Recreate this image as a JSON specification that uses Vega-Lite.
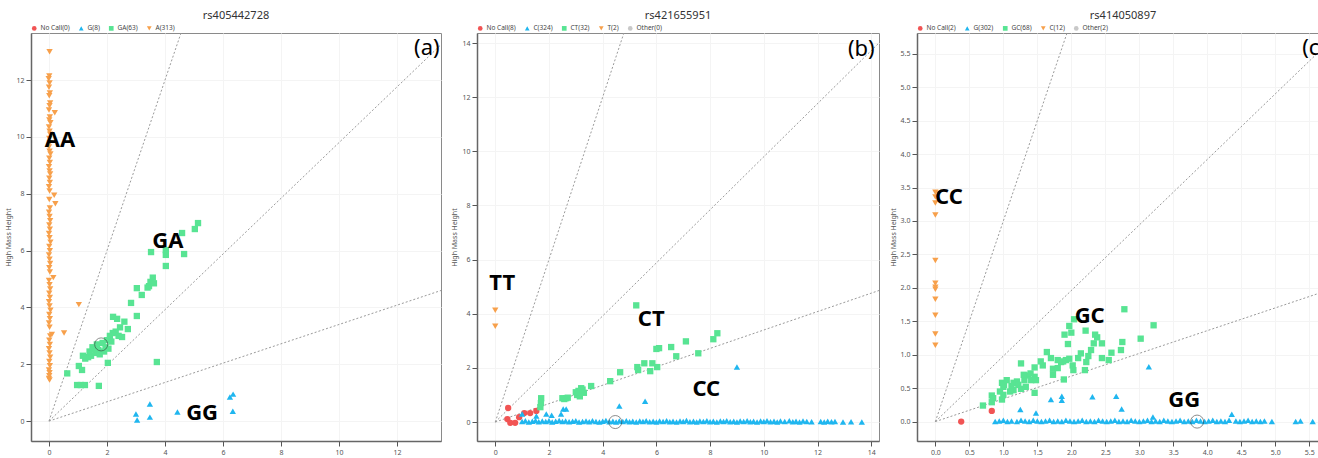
{
"$schema": "https://vega.github.io/schema/vega-lite/v6.json",
"padding": {"left": 4, "top": 9, "right": 0, "bottom": 0},
"spacing": 8,
"config": {
  "font": "Noto Sans",
  "view": {"stroke": "#8a8a8a", "strokeWidth": 1},
  "axis": {"labelFontSize": 7, "labelColor": "#555", "titleFontSize": 7, "titleColor": "#555", "titleFontWeight": "normal", "tickColor": "#555", "tickSize": 5, "domainColor": "#666", "domainWidth": 1.5, "gridColor": "#f4f4f4", "labelPadding": 2, "titlePadding": 4},
  "title": {"fontSize": 11, "fontWeight": "normal", "color": "#333", "anchor": "middle", "frame": "group", "offset": 0},
  "legend": {"orient": "none", "legendX": 0, "legendY": -8, "direction": "horizontal", "title": null, "labelFontSize": 6.5, "labelColor": "#444", "symbolSize": 22, "columnPadding": 8, "labelOffset": 3, "symbolStrokeWidth": 0}
},
"datasets": {
  "lines": [{"x":0,"y":0,"x2":20,"y2":60},{"x":0,"y":0,"x2":60,"y2":58.8},{"x":0,"y":0,"x2":60,"y2":20.4}],
  "sel": [{"p":"a","x":1.8,"y":2.7},{"p":"b","x":4.47,"y":0},{"p":"c","x":3.85,"y":0}],
  "lab": [
    {"p":"a","x":0.38,"y":9.9,"t":"AA"},{"p":"a","x":4.1,"y":6.34,"t":"GA"},{"p":"a","x":5.28,"y":0.28,"t":"GG"},
    {"p":"b","x":0.26,"y":5.12,"t":"TT"},{"p":"b","x":5.81,"y":3.8,"t":"CT"},{"p":"b","x":7.86,"y":1.22,"t":"CC"},
    {"p":"c","x":0.2,"y":3.36,"t":"CC"},{"p":"c","x":2.27,"y":1.58,"t":"GC"},{"p":"c","x":3.66,"y":0.32,"t":"GG"}
  ],
  "let": [{"p":"a","x":13.03,"y":13.12,"t":"(a)"},{"p":"b","x":13.63,"y":13.78,"t":"(b)"},{"p":"c","x":5.57,"y":5.59,"t":"(c)"}],
  "da": [
    {"x":0.02,"y":13.0,"g":"A(313)"},{"x":0.01,"y":12.15,"g":"A(313)"},{"x":-0.01,"y":12.05,"g":"A(313)"},{"x":0.02,"y":11.9,"g":"A(313)"},{"x":0.0,"y":11.75,"g":"A(313)"},{"x":0.03,"y":11.55,"g":"A(313)"},{"x":0.01,"y":11.45,"g":"A(313)"},{"x":0.04,"y":11.2,"g":"A(313)"},{"x":0.02,"y":11.1,"g":"A(313)"},{"x":0.0,"y":10.95,"g":"A(313)"},{"x":0.2,"y":10.85,"g":"A(313)"},{"x":0.03,"y":10.7,"g":"A(313)"},{"x":0.01,"y":10.6,"g":"A(313)"},{"x":0.05,"y":10.5,"g":"A(313)"},{"x":0.0,"y":10.35,"g":"A(313)"},{"x":0.02,"y":10.2,"g":"A(313)"},{"x":0.04,"y":10.1,"g":"A(313)"},{"x":0.01,"y":9.95,"g":"A(313)"},{"x":0.03,"y":9.8,"g":"A(313)"},{"x":0.0,"y":9.65,"g":"A(313)"},{"x":0.02,"y":9.5,"g":"A(313)"},{"x":0.05,"y":9.4,"g":"A(313)"},{"x":0.01,"y":9.25,"g":"A(313)"},{"x":0.03,"y":9.1,"g":"A(313)"},{"x":0.0,"y":8.95,"g":"A(313)"},{"x":0.02,"y":8.8,"g":"A(313)"},{"x":0.04,"y":8.7,"g":"A(313)"},{"x":0.01,"y":8.55,"g":"A(313)"},{"x":0.03,"y":8.4,"g":"A(313)"},{"x":0.0,"y":8.25,"g":"A(313)"},{"x":0.02,"y":8.1,"g":"A(313)"},{"x":0.18,"y":7.95,"g":"A(313)"},{"x":0.01,"y":7.8,"g":"A(313)"},{"x":0.22,"y":7.65,"g":"A(313)"},{"x":0.03,"y":7.5,"g":"A(313)"},{"x":0.0,"y":7.35,"g":"A(313)"},{"x":0.02,"y":7.2,"g":"A(313)"},{"x":0.04,"y":7.05,"g":"A(313)"},{"x":0.01,"y":6.9,"g":"A(313)"},{"x":0.03,"y":6.75,"g":"A(313)"},{"x":0.0,"y":6.6,"g":"A(313)"},{"x":0.02,"y":6.45,"g":"A(313)"},{"x":0.05,"y":6.3,"g":"A(313)"},{"x":0.01,"y":6.15,"g":"A(313)"},{"x":0.03,"y":6.0,"g":"A(313)"},{"x":0.0,"y":5.85,"g":"A(313)"},{"x":0.02,"y":5.7,"g":"A(313)"},{"x":0.04,"y":5.55,"g":"A(313)"},{"x":0.01,"y":5.4,"g":"A(313)"},{"x":0.03,"y":5.25,"g":"A(313)"},{"x":0.15,"y":5.05,"g":"A(313)"},{"x":0.0,"y":4.95,"g":"A(313)"},{"x":0.02,"y":4.8,"g":"A(313)"},{"x":0.04,"y":4.65,"g":"A(313)"},{"x":0.01,"y":4.5,"g":"A(313)"},{"x":0.03,"y":4.35,"g":"A(313)"},{"x":0.0,"y":4.2,"g":"A(313)"},{"x":1.03,"y":4.1,"g":"A(313)"},{"x":0.02,"y":4.05,"g":"A(313)"},{"x":0.05,"y":3.9,"g":"A(313)"},{"x":0.01,"y":3.75,"g":"A(313)"},{"x":0.03,"y":3.6,"g":"A(313)"},{"x":0.0,"y":3.45,"g":"A(313)"},{"x":0.02,"y":3.3,"g":"A(313)"},{"x":0.52,"y":3.1,"g":"A(313)"},{"x":0.1,"y":3.05,"g":"A(313)"},{"x":0.04,"y":3.0,"g":"A(313)"},{"x":0.01,"y":2.85,"g":"A(313)"},{"x":0.03,"y":2.7,"g":"A(313)"},{"x":0.0,"y":2.55,"g":"A(313)"},{"x":0.02,"y":2.4,"g":"A(313)"},{"x":0.04,"y":2.25,"g":"A(313)"},{"x":0.01,"y":2.1,"g":"A(313)"},{"x":0.03,"y":1.95,"g":"A(313)"},{"x":0.0,"y":1.8,"g":"A(313)"},{"x":0.02,"y":1.7,"g":"A(313)"},{"x":0.01,"y":1.6,"g":"A(313)"},{"x":0.0,"y":1.5,"g":"A(313)"},{"x":0.02,"y":1.45,"g":"A(313)"},
    {"x":5.14,"y":6.97,"g":"GA(63)"},{"x":5.03,"y":6.76,"g":"GA(63)"},{"x":4.59,"y":6.62,"g":"GA(63)"},{"x":3.52,"y":5.95,"g":"GA(63)"},{"x":4.03,"y":6.02,"g":"GA(63)"},{"x":4.03,"y":5.85,"g":"GA(63)"},{"x":4.66,"y":5.88,"g":"GA(63)"},{"x":4.03,"y":5.46,"g":"GA(63)"},{"x":3.45,"y":4.75,"g":"GA(63)"},{"x":3.5,"y":4.9,"g":"GA(63)"},{"x":3.58,"y":5.05,"g":"GA(63)"},{"x":3.62,"y":4.85,"g":"GA(63)"},{"x":3.4,"y":4.7,"g":"GA(63)"},{"x":3.03,"y":4.68,"g":"GA(63)"},{"x":3.2,"y":4.44,"g":"GA(63)"},{"x":2.83,"y":4.16,"g":"GA(63)"},{"x":3.03,"y":3.7,"g":"GA(63)"},{"x":2.21,"y":3.67,"g":"GA(63)"},{"x":2.35,"y":3.6,"g":"GA(63)"},{"x":2.45,"y":3.3,"g":"GA(63)"},{"x":2.72,"y":3.24,"g":"GA(63)"},{"x":2.52,"y":2.96,"g":"GA(63)"},{"x":2.3,"y":3.15,"g":"GA(63)"},{"x":2.2,"y":3.1,"g":"GA(63)"},{"x":2.1,"y":3.0,"g":"GA(63)"},{"x":2.0,"y":2.85,"g":"GA(63)"},{"x":2.15,"y":2.8,"g":"GA(63)"},{"x":1.95,"y":2.6,"g":"GA(63)"},{"x":1.85,"y":2.75,"g":"GA(63)"},{"x":1.7,"y":2.5,"g":"GA(63)"},{"x":1.6,"y":2.4,"g":"GA(63)"},{"x":1.55,"y":2.55,"g":"GA(63)"},{"x":1.45,"y":2.3,"g":"GA(63)"},{"x":1.35,"y":2.25,"g":"GA(63)"},{"x":1.4,"y":2.45,"g":"GA(63)"},{"x":1.25,"y":2.2,"g":"GA(63)"},{"x":1.17,"y":2.3,"g":"GA(63)"},{"x":1.9,"y":2.45,"g":"GA(63)"},{"x":2.05,"y":2.55,"g":"GA(63)"},{"x":1.75,"y":2.35,"g":"GA(63)"},{"x":3.72,"y":2.08,"g":"GA(63)"},{"x":2.03,"y":2.05,"g":"GA(63)"},{"x":0.63,"y":1.68,"g":"GA(63)"},{"x":1.03,"y":1.94,"g":"GA(63)"},{"x":1.14,"y":1.8,"g":"GA(63)"},{"x":0.97,"y":1.27,"g":"GA(63)"},{"x":1.1,"y":1.27,"g":"GA(63)"},{"x":1.24,"y":1.27,"g":"GA(63)"},{"x":1.72,"y":1.24,"g":"GA(63)"},{"x":2.4,"y":3.0,"g":"GA(63)"},{"x":2.6,"y":3.5,"g":"GA(63)"},{"x":1.65,"y":2.7,"g":"GA(63)"},{"x":1.5,"y":2.6,"g":"GA(63)"},
    {"x":3.0,"y":0.25,"g":"G(8)"},{"x":3.04,"y":0.04,"g":"G(8)"},{"x":3.48,"y":0.6,"g":"G(8)"},{"x":3.48,"y":0.14,"g":"G(8)"},{"x":4.43,"y":0.32,"g":"G(8)"},{"x":6.24,"y":0.85,"g":"G(8)"},{"x":6.35,"y":0.95,"g":"G(8)"},{"x":6.34,"y":0.35,"g":"G(8)"}
  ],
  "db": [
    {"x":0,"y":4.13,"g":"T(2)"},{"x":0,"y":3.54,"g":"T(2)"},
    {"x":0.48,"y":0.52,"g":"No Call(8)"},{"x":0.45,"y":0.11,"g":"No Call(8)"},{"x":0.56,"y":-0.03,"g":"No Call(8)"},{"x":0.74,"y":-0.03,"g":"No Call(8)"},{"x":0.89,"y":0.18,"g":"No Call(8)"},{"x":1.08,"y":0.33,"g":"No Call(8)"},{"x":1.3,"y":0.33,"g":"No Call(8)"},{"x":1.53,"y":0.41,"g":"No Call(8)"},
    {"x":5.25,"y":4.31,"g":"CT(32)"},{"x":8.27,"y":3.28,"g":"CT(32)"},{"x":8.12,"y":3.06,"g":"CT(32)"},{"x":7.1,"y":2.98,"g":"CT(32)"},{"x":7.56,"y":2.54,"g":"CT(32)"},{"x":6.55,"y":2.77,"g":"CT(32)"},{"x":6.74,"y":2.43,"g":"CT(32)"},{"x":6.1,"y":2.73,"g":"CT(32)"},{"x":5.55,"y":2.17,"g":"CT(32)"},{"x":5.85,"y":2.17,"g":"CT(32)"},{"x":6.03,"y":2.03,"g":"CT(32)"},{"x":5.77,"y":1.88,"g":"CT(32)"},{"x":5.29,"y":2.03,"g":"CT(32)"},{"x":5.32,"y":1.92,"g":"CT(32)"},{"x":4.65,"y":1.84,"g":"CT(32)"},{"x":4.28,"y":1.51,"g":"CT(32)"},{"x":3.57,"y":1.33,"g":"CT(32)"},{"x":3.05,"y":1.0,"g":"CT(32)"},{"x":3.1,"y":1.15,"g":"CT(32)"},{"x":3.2,"y":1.25,"g":"CT(32)"},{"x":3.3,"y":1.08,"g":"CT(32)"},{"x":3.15,"y":0.95,"g":"CT(32)"},{"x":2.5,"y":0.88,"g":"CT(32)"},{"x":2.64,"y":0.88,"g":"CT(32)"},{"x":2.57,"y":0.85,"g":"CT(32)"},{"x":1.71,"y":0.88,"g":"CT(32)"},{"x":1.7,"y":0.7,"g":"CT(32)"},{"x":1.68,"y":0.55,"g":"CT(32)"},{"x":3.25,"y":1.2,"g":"CT(32)"},{"x":6.0,"y":2.7,"g":"CT(32)"},{"x":3.0,"y":1.1,"g":"CT(32)"},{"x":2.7,"y":0.9,"g":"CT(32)"},
    {"x":1.0,"y":0.3,"g":"C(324)"},{"x":1.53,"y":0.22,"g":"C(324)"},{"x":1.9,"y":0.3,"g":"C(324)"},{"x":2.1,"y":0.25,"g":"C(324)"},{"x":2.53,"y":0.48,"g":"C(324)"},{"x":2.64,"y":0.48,"g":"C(324)"},{"x":2.45,"y":0.3,"g":"C(324)"},{"x":4.62,"y":0.59,"g":"C(324)"},{"x":5.58,"y":0.77,"g":"C(324)"},{"x":9.0,"y":2.03,"g":"C(324)"},
    {"x":1.0,"y":0.02,"g":"C(324)"},{"x":1.12,"y":0.05,"g":"C(324)"},{"x":1.25,"y":0.0,"g":"C(324)"},{"x":1.38,"y":0.03,"g":"C(324)"},{"x":1.5,"y":0.06,"g":"C(324)"},{"x":1.62,"y":0.01,"g":"C(324)"},{"x":1.75,"y":0.04,"g":"C(324)"},{"x":1.88,"y":0.02,"g":"C(324)"},{"x":2.0,"y":0.05,"g":"C(324)"},{"x":2.12,"y":0.0,"g":"C(324)"},{"x":2.25,"y":0.03,"g":"C(324)"},{"x":2.38,"y":0.06,"g":"C(324)"},{"x":2.5,"y":0.02,"g":"C(324)"},{"x":2.62,"y":0.04,"g":"C(324)"},{"x":2.75,"y":0.01,"g":"C(324)"},{"x":2.88,"y":0.03,"g":"C(324)"},{"x":3.0,"y":0.05,"g":"C(324)"},{"x":3.12,"y":0.0,"g":"C(324)"},{"x":3.25,"y":0.02,"g":"C(324)"},{"x":3.38,"y":0.04,"g":"C(324)"},{"x":3.5,"y":0.01,"g":"C(324)"},{"x":3.62,"y":0.05,"g":"C(324)"},{"x":3.75,"y":0.02,"g":"C(324)"},{"x":3.88,"y":0.0,"g":"C(324)"},{"x":4.0,"y":0.03,"g":"C(324)"},{"x":4.12,"y":0.06,"g":"C(324)"},{"x":4.25,"y":0.01,"g":"C(324)"},{"x":4.38,"y":0.03,"g":"C(324)"},{"x":4.5,"y":0.0,"g":"C(324)"},{"x":4.62,"y":0.04,"g":"C(324)"},{"x":4.75,"y":0.02,"g":"C(324)"},{"x":4.88,"y":0.05,"g":"C(324)"},{"x":5.0,"y":0.01,"g":"C(324)"},{"x":5.12,"y":0.03,"g":"C(324)"},{"x":5.25,"y":0.0,"g":"C(324)"},{"x":5.38,"y":0.04,"g":"C(324)"},{"x":5.5,"y":0.02,"g":"C(324)"},{"x":5.62,"y":0.05,"g":"C(324)"},{"x":5.75,"y":0.01,"g":"C(324)"},{"x":5.88,"y":0.03,"g":"C(324)"},{"x":6.0,"y":0.0,"g":"C(324)"},{"x":6.12,"y":0.04,"g":"C(324)"},{"x":6.25,"y":0.02,"g":"C(324)"},{"x":6.38,"y":0.05,"g":"C(324)"},{"x":6.5,"y":0.01,"g":"C(324)"},{"x":6.62,"y":0.03,"g":"C(324)"},{"x":6.75,"y":0.0,"g":"C(324)"},{"x":6.88,"y":0.04,"g":"C(324)"},{"x":7.0,"y":0.02,"g":"C(324)"},{"x":7.12,"y":0.06,"g":"C(324)"},{"x":7.25,"y":0.01,"g":"C(324)"},{"x":7.38,"y":0.03,"g":"C(324)"},{"x":7.5,"y":0.0,"g":"C(324)"},{"x":7.62,"y":0.04,"g":"C(324)"},{"x":7.75,"y":0.02,"g":"C(324)"},{"x":7.88,"y":0.05,"g":"C(324)"},{"x":8.0,"y":0.01,"g":"C(324)"},{"x":8.12,"y":0.03,"g":"C(324)"},{"x":8.25,"y":0.0,"g":"C(324)"},{"x":8.38,"y":0.04,"g":"C(324)"},{"x":8.5,"y":0.02,"g":"C(324)"},{"x":8.62,"y":0.05,"g":"C(324)"},{"x":8.75,"y":0.01,"g":"C(324)"},{"x":8.88,"y":0.03,"g":"C(324)"},{"x":9.0,"y":0.0,"g":"C(324)"},{"x":9.12,"y":0.04,"g":"C(324)"},{"x":9.25,"y":0.02,"g":"C(324)"},{"x":9.38,"y":0.05,"g":"C(324)"},{"x":9.5,"y":0.01,"g":"C(324)"},{"x":9.62,"y":0.03,"g":"C(324)"},{"x":9.75,"y":0.0,"g":"C(324)"},{"x":9.88,"y":0.04,"g":"C(324)"},{"x":10.0,"y":0.02,"g":"C(324)"},{"x":10.12,"y":0.05,"g":"C(324)"},{"x":10.25,"y":0.01,"g":"C(324)"},{"x":10.38,"y":0.03,"g":"C(324)"},{"x":10.5,"y":0.0,"g":"C(324)"},{"x":10.62,"y":0.04,"g":"C(324)"},{"x":10.78,"y":0.02,"g":"C(324)"},{"x":10.95,"y":0.05,"g":"C(324)"},{"x":11.08,"y":0.01,"g":"C(324)"},{"x":11.2,"y":0.03,"g":"C(324)"},{"x":11.33,"y":0.0,"g":"C(324)"},{"x":11.46,"y":0.04,"g":"C(324)"},{"x":11.6,"y":0.02,"g":"C(324)"},{"x":11.78,"y":0.01,"g":"C(324)"},{"x":12.12,"y":0.02,"g":"C(324)"},{"x":12.25,"y":0.0,"g":"C(324)"},{"x":12.38,"y":0.03,"g":"C(324)"},{"x":12.52,"y":0.01,"g":"C(324)"},{"x":12.65,"y":0.02,"g":"C(324)"},{"x":12.95,"y":0.0,"g":"C(324)"},{"x":13.25,"y":0.01,"g":"C(324)"},{"x":13.65,"y":0.0,"g":"C(324)"}
  ],
  "dc": [
    {"x":0,"y":3.43,"g":"C(12)"},{"x":0,"y":3.36,"g":"C(12)"},{"x":0,"y":3.27,"g":"C(12)"},{"x":0,"y":3.09,"g":"C(12)"},{"x":0,"y":2.41,"g":"C(12)"},{"x":0,"y":2.07,"g":"C(12)"},{"x":0,"y":2.01,"g":"C(12)"},{"x":0,"y":1.98,"g":"C(12)"},{"x":0,"y":1.83,"g":"C(12)"},{"x":0,"y":1.59,"g":"C(12)"},{"x":0,"y":1.31,"g":"C(12)"},{"x":0,"y":1.14,"g":"C(12)"},
    {"x":0.38,"y":0.0,"g":"No Call(2)"},{"x":0.83,"y":0.16,"g":"No Call(2)"},
    {"x":2.78,"y":1.68,"g":"GC(68)"},{"x":3.21,"y":1.44,"g":"GC(68)"},{"x":3.02,"y":1.24,"g":"GC(68)"},{"x":2.75,"y":1.19,"g":"GC(68)"},{"x":2.73,"y":1.07,"g":"GC(68)"},{"x":2.59,"y":1.03,"g":"GC(68)"},{"x":2.55,"y":0.92,"g":"GC(68)"},{"x":2.45,"y":1.17,"g":"GC(68)"},{"x":2.38,"y":1.26,"g":"GC(68)"},{"x":2.33,"y":1.17,"g":"GC(68)"},{"x":2.29,"y":1.07,"g":"GC(68)"},{"x":2.25,"y":0.98,"g":"GC(68)"},{"x":2.22,"y":0.89,"g":"GC(68)"},{"x":2.2,"y":0.77,"g":"GC(68)"},{"x":2.14,"y":1.02,"g":"GC(68)"},{"x":2.21,"y":1.36,"g":"GC(68)"},{"x":2.04,"y":1.53,"g":"GC(68)"},{"x":1.97,"y":1.43,"g":"GC(68)"},{"x":2.0,"y":1.33,"g":"GC(68)"},{"x":1.95,"y":1.16,"g":"GC(68)"},{"x":1.92,"y":0.92,"g":"GC(68)"},{"x":1.97,"y":0.94,"g":"GC(68)"},{"x":2.02,"y":0.84,"g":"GC(68)"},{"x":2.03,"y":0.77,"g":"GC(68)"},{"x":1.85,"y":0.89,"g":"GC(68)"},{"x":1.8,"y":0.92,"g":"GC(68)"},{"x":1.88,"y":0.9,"g":"GC(68)"},{"x":1.64,"y":1.04,"g":"GC(68)"},{"x":1.73,"y":0.79,"g":"GC(68)"},{"x":1.73,"y":0.7,"g":"GC(68)"},{"x":1.58,"y":0.84,"g":"GC(68)"},{"x":1.46,"y":0.81,"g":"GC(68)"},{"x":1.46,"y":0.67,"g":"GC(68)"},{"x":1.46,"y":0.43,"g":"GC(68)"},{"x":1.26,"y":0.87,"g":"GC(68)"},{"x":1.36,"y":0.69,"g":"GC(68)"},{"x":1.31,"y":0.62,"g":"GC(68)"},{"x":1.26,"y":0.49,"g":"GC(68)"},{"x":1.41,"y":0.62,"g":"GC(68)"},{"x":1.48,"y":0.62,"g":"GC(68)"},{"x":1.33,"y":0.52,"g":"GC(68)"},{"x":1.15,"y":0.58,"g":"GC(68)"},{"x":1.15,"y":0.47,"g":"GC(68)"},{"x":0.98,"y":0.58,"g":"GC(68)"},{"x":1.0,"y":0.52,"g":"GC(68)"},{"x":1.01,"y":0.55,"g":"GC(68)"},{"x":1.12,"y":0.53,"g":"GC(68)"},{"x":0.98,"y":0.33,"g":"GC(68)"},{"x":0.83,"y":0.29,"g":"GC(68)"},{"x":0.83,"y":0.39,"g":"GC(68)"},{"x":0.7,"y":0.24,"g":"GC(68)"},{"x":1.89,"y":0.63,"g":"GC(68)"},{"x":1.2,"y":0.6,"g":"GC(68)"},{"x":1.05,"y":0.62,"g":"GC(68)"},{"x":1.1,"y":0.45,"g":"GC(68)"},{"x":1.22,"y":0.55,"g":"GC(68)"},{"x":1.3,"y":0.7,"g":"GC(68)"},{"x":1.4,"y":0.72,"g":"GC(68)"},{"x":0.95,"y":0.45,"g":"GC(68)"},{"x":1.0,"y":0.4,"g":"GC(68)"},{"x":1.55,"y":0.9,"g":"GC(68)"},{"x":1.7,"y":0.95,"g":"GC(68)"},{"x":2.1,"y":0.95,"g":"GC(68)"},{"x":2.35,"y":1.3,"g":"GC(68)"},{"x":1.9,"y":1.3,"g":"GC(68)"},{"x":2.45,"y":0.95,"g":"GC(68)"},{"x":1.8,"y":0.8,"g":"GC(68)"},{"x":0.85,"y":0.35,"g":"GC(68)"},
    {"x":1.25,"y":0.18,"g":"G(302)"},{"x":1.48,"y":0.13,"g":"G(302)"},{"x":1.7,"y":0.33,"g":"G(302)"},{"x":1.86,"y":0.38,"g":"G(302)"},{"x":1.86,"y":0.32,"g":"G(302)"},{"x":2.31,"y":0.37,"g":"G(302)"},{"x":2.66,"y":0.38,"g":"G(302)"},{"x":2.74,"y":0.19,"g":"G(302)"},{"x":3.14,"y":0.82,"g":"G(302)"},{"x":4.36,"y":0.11,"g":"G(302)"},{"x":3.2,"y":0.07,"g":"G(302)"},
    {"x":0.88,"y":0.0,"g":"G(302)"},{"x":0.94,"y":0.01,"g":"G(302)"},{"x":1.0,"y":0.02,"g":"G(302)"},{"x":1.06,"y":0.0,"g":"G(302)"},{"x":1.12,"y":0.01,"g":"G(302)"},{"x":1.2,"y":0.0,"g":"G(302)"},{"x":1.26,"y":0.02,"g":"G(302)"},{"x":1.32,"y":0.01,"g":"G(302)"},{"x":1.38,"y":0.0,"g":"G(302)"},{"x":1.44,"y":0.02,"g":"G(302)"},{"x":1.5,"y":0.01,"g":"G(302)"},{"x":1.56,"y":0.0,"g":"G(302)"},{"x":1.62,"y":0.01,"g":"G(302)"},{"x":1.68,"y":0.02,"g":"G(302)"},{"x":1.74,"y":0.0,"g":"G(302)"},{"x":1.8,"y":0.01,"g":"G(302)"},{"x":1.86,"y":0.0,"g":"G(302)"},{"x":1.92,"y":0.02,"g":"G(302)"},{"x":1.98,"y":0.01,"g":"G(302)"},{"x":2.04,"y":0.0,"g":"G(302)"},{"x":2.1,"y":0.01,"g":"G(302)"},{"x":2.16,"y":0.02,"g":"G(302)"},{"x":2.22,"y":0.0,"g":"G(302)"},{"x":2.28,"y":0.01,"g":"G(302)"},{"x":2.34,"y":0.0,"g":"G(302)"},{"x":2.4,"y":0.02,"g":"G(302)"},{"x":2.46,"y":0.01,"g":"G(302)"},{"x":2.52,"y":0.0,"g":"G(302)"},{"x":2.58,"y":0.01,"g":"G(302)"},{"x":2.64,"y":0.02,"g":"G(302)"},{"x":2.7,"y":0.0,"g":"G(302)"},{"x":2.76,"y":0.01,"g":"G(302)"},{"x":2.82,"y":0.0,"g":"G(302)"},{"x":2.88,"y":0.02,"g":"G(302)"},{"x":2.94,"y":0.01,"g":"G(302)"},{"x":3.0,"y":0.0,"g":"G(302)"},{"x":3.06,"y":0.01,"g":"G(302)"},{"x":3.12,"y":0.02,"g":"G(302)"},{"x":3.18,"y":0.0,"g":"G(302)"},{"x":3.24,"y":0.01,"g":"G(302)"},{"x":3.3,"y":0.0,"g":"G(302)"},{"x":3.36,"y":0.02,"g":"G(302)"},{"x":3.42,"y":0.01,"g":"G(302)"},{"x":3.48,"y":0.0,"g":"G(302)"},{"x":3.54,"y":0.01,"g":"G(302)"},{"x":3.6,"y":0.02,"g":"G(302)"},{"x":3.66,"y":0.0,"g":"G(302)"},{"x":3.72,"y":0.01,"g":"G(302)"},{"x":3.78,"y":0.0,"g":"G(302)"},{"x":3.84,"y":0.02,"g":"G(302)"},{"x":3.9,"y":0.01,"g":"G(302)"},{"x":3.96,"y":0.0,"g":"G(302)"},{"x":4.02,"y":0.01,"g":"G(302)"},{"x":4.08,"y":0.02,"g":"G(302)"},{"x":4.14,"y":0.0,"g":"G(302)"},{"x":4.2,"y":0.01,"g":"G(302)"},{"x":4.26,"y":0.0,"g":"G(302)"},{"x":4.32,"y":0.02,"g":"G(302)"},{"x":4.42,"y":0.01,"g":"G(302)"},{"x":4.48,"y":0.0,"g":"G(302)"},{"x":4.54,"y":0.01,"g":"G(302)"},{"x":4.6,"y":0.02,"g":"G(302)"},{"x":4.66,"y":0.0,"g":"G(302)"},{"x":4.72,"y":0.01,"g":"G(302)"},{"x":4.78,"y":0.0,"g":"G(302)"},{"x":4.84,"y":0.01,"g":"G(302)"},{"x":4.95,"y":0.0,"g":"G(302)"},{"x":5.3,"y":0.0,"g":"G(302)"},{"x":5.37,"y":0.01,"g":"G(302)"},{"x":5.55,"y":0.0,"g":"G(302)"}
  ]
},
"resolve": {"scale": {"color": "independent", "shape": "independent"}, "legend": {"color": "independent", "shape": "independent"}},
"hconcat": [
  {
    "width": 410, "height": 408,
    "title": {"text": "rs405442728"},
    "encoding": {
      "x": {"field": "x", "type": "quantitative", "scale": {"domain": [-0.62, 13.52], "nice": false, "zero": false}, "axis": {"title": "Low Mass Height", "values": [0,2,4,6,8,10,12]}},
      "y": {"field": "y", "type": "quantitative", "scale": {"domain": [-0.7, 13.66], "nice": false, "zero": false}, "axis": {"title": "High Mass Height", "values": [0,2,4,6,8,10,12]}}
    },
    "layer": [
      {"data": {"name": "lines"}, "mark": {"type": "rule", "clip": true, "color": "#9a9a9a", "strokeDash": [2, 2], "strokeWidth": 1}, "encoding": {"x2": {"field": "x2"}, "y2": {"field": "y2"}}},
      {"data": {"name": "da"}, "mark": {"type": "point", "filled": true, "size": 40, "opacity": 1},
       "encoding": {
        "color": {"field": "g", "type": "nominal", "scale": {"domain": ["No Call(0)", "G(8)", "GA(63)", "A(313)"], "range": ["#f15454", "#1fb6ef", "#58e493", "#f7a04b"]}},
        "shape": {"field": "g", "type": "nominal", "scale": {"domain": ["No Call(0)", "G(8)", "GA(63)", "A(313)"], "range": ["circle", "triangle-up", "square", "triangle-down"]}}
       }},
      {"data": {"name": "sel"}, "transform": [{"filter": "datum.p == 'a'"}], "mark": {"type": "point", "filled": false, "size": 170, "color": "#333", "strokeWidth": 0.8}},
      {"data": {"name": "lab"}, "transform": [{"filter": "datum.p == 'a'"}], "mark": {"type": "text", "fontSize": 22, "fontWeight": "bold", "color": "#000", "align": "center", "baseline": "middle"}, "encoding": {"text": {"field": "t"}}},
      {"data": {"name": "let"}, "transform": [{"filter": "datum.p == 'a'"}], "mark": {"type": "text", "fontSize": 22, "color": "#000", "align": "center", "baseline": "middle"}, "encoding": {"text": {"field": "t"}}}
    ]
  },
  {
    "width": 402, "height": 408,
    "title": {"text": "rs421655951"},
    "encoding": {
      "x": {"field": "x", "type": "quantitative", "scale": {"domain": [-0.68, 14.29], "nice": false, "zero": false}, "axis": {"title": "Low Mass Height", "values": [0,2,4,6,8,10,12,14]}},
      "y": {"field": "y", "type": "quantitative", "scale": {"domain": [-0.7, 14.37], "nice": false, "zero": false}, "axis": {"title": "High Mass Height", "values": [0,2,4,6,8,10,12,14]}}
    },
    "layer": [
      {"data": {"name": "lines"}, "mark": {"type": "rule", "clip": true, "color": "#9a9a9a", "strokeDash": [2, 2], "strokeWidth": 1}, "encoding": {"x2": {"field": "x2"}, "y2": {"field": "y2"}}},
      {"data": {"name": "db"}, "mark": {"type": "point", "filled": true, "size": 40, "opacity": 1},
       "encoding": {
        "color": {"field": "g", "type": "nominal", "scale": {"domain": ["No Call(8)", "C(324)", "CT(32)", "T(2)", "Other(0)"], "range": ["#f15454", "#1fb6ef", "#58e493", "#f7a04b", "#c8c8c8"]}},
        "shape": {"field": "g", "type": "nominal", "scale": {"domain": ["No Call(8)", "C(324)", "CT(32)", "T(2)", "Other(0)"], "range": ["circle", "triangle-up", "square", "triangle-down", "circle"]}}
       }},
      {"data": {"name": "sel"}, "transform": [{"filter": "datum.p == 'b'"}], "mark": {"type": "point", "filled": false, "size": 170, "color": "#333", "strokeWidth": 0.8}},
      {"data": {"name": "lab"}, "transform": [{"filter": "datum.p == 'b'"}], "mark": {"type": "text", "fontSize": 22, "fontWeight": "bold", "color": "#000", "align": "center", "baseline": "middle"}, "encoding": {"text": {"field": "t"}}},
      {"data": {"name": "let"}, "transform": [{"filter": "datum.p == 'b'"}], "mark": {"type": "text", "fontSize": 22, "color": "#000", "align": "center", "baseline": "middle"}, "encoding": {"text": {"field": "t"}}}
    ]
  },
  {
    "width": 412, "height": 408,
    "title": {"text": "rs414050897"},
    "encoding": {
      "x": {"field": "x", "type": "quantitative", "scale": {"domain": [-0.27, 5.79], "nice": false, "zero": false}, "axis": {"title": "Low Mass Height", "format": ".1f", "values": [0,0.5,1,1.5,2,2.5,3,3.5,4,4.5,5,5.5]}},
      "y": {"field": "y", "type": "quantitative", "scale": {"domain": [-0.29, 5.81], "nice": false, "zero": false}, "axis": {"title": "High Mass Height", "format": ".1f", "values": [0,0.5,1,1.5,2,2.5,3,3.5,4,4.5,5,5.5]}}
    },
    "layer": [
      {"data": {"name": "lines"}, "mark": {"type": "rule", "clip": true, "color": "#9a9a9a", "strokeDash": [2, 2], "strokeWidth": 1}, "encoding": {"x2": {"field": "x2"}, "y2": {"field": "y2"}}},
      {"data": {"name": "dc"}, "mark": {"type": "point", "filled": true, "size": 40, "opacity": 1},
       "encoding": {
        "color": {"field": "g", "type": "nominal", "scale": {"domain": ["No Call(2)", "G(302)", "GC(68)", "C(12)", "Other(2)"], "range": ["#f15454", "#1fb6ef", "#58e493", "#f7a04b", "#c8c8c8"]}},
        "shape": {"field": "g", "type": "nominal", "scale": {"domain": ["No Call(2)", "G(302)", "GC(68)", "C(12)", "Other(2)"], "range": ["circle", "triangle-up", "square", "triangle-down", "circle"]}}
       }},
      {"data": {"name": "sel"}, "transform": [{"filter": "datum.p == 'c'"}], "mark": {"type": "point", "filled": false, "size": 170, "color": "#333", "strokeWidth": 0.8}},
      {"data": {"name": "lab"}, "transform": [{"filter": "datum.p == 'c'"}], "mark": {"type": "text", "fontSize": 22, "fontWeight": "bold", "color": "#000", "align": "center", "baseline": "middle"}, "encoding": {"text": {"field": "t"}}},
      {"data": {"name": "let"}, "transform": [{"filter": "datum.p == 'c'"}], "mark": {"type": "text", "fontSize": 22, "color": "#000", "align": "center", "baseline": "middle"}, "encoding": {"text": {"field": "t"}}}
    ]
  }
]
}
